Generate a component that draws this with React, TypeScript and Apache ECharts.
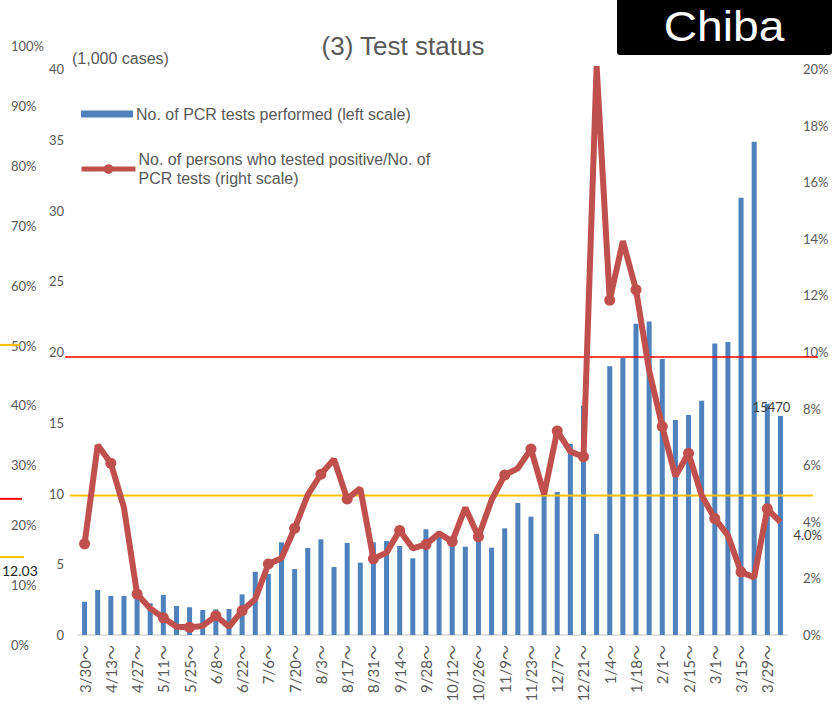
import React, { useEffect, useRef } from 'react';
import * as echarts from 'echarts';

const weeks = [
  '3/30', '4/6', '4/13', '4/20', '4/27', '5/4', '5/11', '5/18', '5/25', '6/1',
  '6/8', '6/15', '6/22', '6/29', '7/6', '7/13', '7/20', '7/27', '8/3', '8/10',
  '8/17', '8/24', '8/31', '9/7', '9/14', '9/21', '9/28', '10/5', '10/12', '10/19',
  '10/26', '11/2', '11/9', '11/16', '11/23', '11/30', '12/7', '12/14', '12/21', '12/28',
  '1/4', '1/11', '1/18', '1/25', '2/1', '2/8', '2/15', '2/22', '3/1', '3/8',
  '3/15', '3/22', '3/29', '4/5',
];

// No. of PCR tests performed (1,000 cases)
const pcrTests = [
  2.35, 3.18, 2.76, 2.76, 2.7, 2.24, 2.83, 2.05, 1.96, 1.77,
  1.81, 1.84, 2.87, 4.47, 4.31, 6.55, 4.66, 6.15, 6.76, 4.8,
  6.5, 5.11, 6.55, 6.64, 6.29, 5.42, 7.47, 7.07, 6.36, 6.24,
  6.7, 6.17, 7.54, 9.33, 8.36, 10.1, 10.1, 13.5, 16.2, 7.15,
  19.0, 19.6, 22.0, 22.15, 19.5, 15.2, 15.55, 16.55, 20.6, 20.7,
  30.9, 34.85, 16.35, 15.47,
];

// Positive / PCR tests (%)
const positivityRate = [
  3.22, 6.71, 6.07, 4.5, 1.45, 0.94, 0.61, 0.29, 0.27, 0.32,
  0.68, 0.29, 0.86, 1.27, 2.51, 2.71, 3.77, 4.95, 5.68, 6.21,
  4.81, 5.18, 2.69, 2.91, 3.69, 3.06, 3.2, 3.59, 3.3, 4.5,
  3.47, 4.77, 5.65, 5.89, 6.57, 4.97, 7.21, 6.48, 6.3, 20.1,
  11.83, 13.92, 12.2, 9.35, 7.37, 5.61, 6.42, 4.93, 4.12, 3.52,
  2.23, 2.03, 4.46, 3.99,
];

const lastTestsLabel = '15470';
const lastRateLabel = '4.0%';

// reference lines
const redThreshold = 9.82; // right scale %
const yellowThreshold = 4.93; // right scale %
const sideMarks = [
  { value: 50.1, color: '#FFC000', x2: 20 },
  { value: 24.4, color: '#FF0000', x2: 22 },
  { value: 14.7, color: '#FFC000', x2: 24 },
];
const sideValueLabel = '12.03';

const barName = 'No. of PCR tests performed (left scale)';
const lineName = 'No. of persons who tested positive/No. of\nPCR tests (right scale)';

export default function App() {
  const ref = useRef<HTMLDivElement>(null);

  useEffect(() => {
    const chart = echarts.init(ref.current as HTMLDivElement, null, { renderer: 'svg' });
    const axisFont = 'Lato, "Liberation Sans", sans-serif';
    const textFont = '"Liberation Sans", Arial, sans-serif';
    const axisColor = '#595959';

    const barData = pcrTests.map((v, i) =>
      i === pcrTests.length - 1
        ? {
            value: v,
            label: {
              show: true,
              position: 'top',
              formatter: lastTestsLabel,
              offset: [-9, 2],
              color: '#404040',
              fontSize: 13,
              fontFamily: axisFont,
            },
          }
        : v
    );

    chart.setOption({
      animation: false,
      backgroundColor: '#ffffff',
      grid: [
        { left: 78, right: 46, top: 69, bottom: 71 },
        { left: 50, top: 46, height: 599, width: 1 },
      ],
      legend: [
        {
          data: [barName],
          left: 81,
          top: 106,
          padding: 0,
          icon: 'rect',
          itemWidth: 52,
          itemHeight: 7,
          textStyle: { fontSize: 16, color: axisColor, fontFamily: textFont, padding: [0, 0, 0, -2] },
          selectedMode: false,
        },
        {
          data: [lineName],
          left: 79,
          top: 150,
          padding: 0,
          itemWidth: 54,
          itemHeight: 12,
          lineStyle: { width: 5 },
          textStyle: { fontSize: 16, lineHeight: 19, color: axisColor, fontFamily: textFont, padding: [0, 0, 0, -2] },
          selectedMode: false,
        },
      ],
      xAxis: [
        {
          type: 'category',
          data: weeks,
          boundaryGap: true,
          axisLine: { lineStyle: { color: '#d9d9d9', width: 1.5 } },
          axisTick: { show: false },
          axisLabel: {
            interval: 1,
            rotate: 90,
            margin: 10,
            color: axisColor,
            fontSize: 15,
            fontFamily: axisFont + ', "Noto Sans CJK JP"',
            formatter: (v: string) => v + '～',
          },
        },
        { gridIndex: 1, type: 'value', show: false },
      ],
      yAxis: [
        {
          type: 'value',
          min: 0,
          max: 40,
          interval: 5,
          axisLine: { show: false },
          axisTick: { show: false },
          splitLine: { show: false },
          axisLabel: { margin: 14, color: axisColor, fontSize: 13, fontFamily: axisFont },
        },
        {
          type: 'value',
          position: 'right',
          min: 0,
          max: 20,
          interval: 2,
          axisLine: { show: false },
          axisTick: { show: false },
          splitLine: { show: false },
          axisLabel: {
            margin: 16,
            color: axisColor,
            fontSize: 13,
            fontFamily: axisFont,
            formatter: '{value}%',
          },
        },
        {
          gridIndex: 1,
          type: 'value',
          min: 0,
          max: 100,
          interval: 10,
          axisLine: { show: false },
          axisTick: { show: false },
          splitLine: { show: false },
          axisLabel: {
            margin: 39,
            align: 'left',
            color: axisColor,
            fontSize: 13,
            fontFamily: axisFont,
            formatter: '{value}%',
          },
        },
      ],
      series: [
        {
          name: barName,
          type: 'bar',
          data: barData,
          barWidth: 5,
          itemStyle: { color: '#4F81BD' },
          z: 1,
        },
        {
          name: lineName,
          type: 'line',
          yAxisIndex: 1,
          data: positivityRate,
          symbol: 'circle',
          symbolSize: 11,
          lineStyle: { color: '#C0504D', width: 6 },
          itemStyle: { color: '#C0504D' },
          z: 5,
        },
      ],
    });

    const yR = (v: number) => chart.convertToPixel({ yAxisIndex: 1 }, v) as number;
    const yP = (v: number) => chart.convertToPixel({ yAxisIndex: 2 }, v) as number;
    const lastIdx = positivityRate.length - 1;
    const lastPt = chart.convertToPixel({ seriesIndex: 1 }, [lastIdx, positivityRate[lastIdx]]) as number[];

    chart.setOption({
      graphic: [
        {
          type: 'line',
          z: 3,
          shape: { x1: 65, y1: yR(redThreshold), x2: 818, y2: yR(redThreshold) },
          style: { stroke: '#FF0000', lineWidth: 1.5 },
        },
        {
          type: 'line',
          z: 3,
          shape: { x1: 70, y1: yR(yellowThreshold), x2: 813, y2: yR(yellowThreshold) },
          style: { stroke: '#FFC000', lineWidth: 2 },
        },
        ...sideMarks.map((m) => ({
          type: 'line',
          z: 3,
          shape: { x1: 0, y1: yP(m.value), x2: m.x2, y2: yP(m.value) },
          style: { stroke: m.color, lineWidth: 2 },
        })),
        {
          type: 'text',
          z: 3,
          x: 2,
          y: yP(14.7) + 14,
          style: {
            text: sideValueLabel,
            fill: '#262626',
            font: '14px ' + axisFont,
            textAlign: 'left',
            textVerticalAlign: 'middle',
            align: 'left',
            verticalAlign: 'middle',
          },
        },
        {
          type: 'text',
          z: 6,
          x: lastPt[0] + 13,
          y: lastPt[1] + 13,
          style: {
            text: lastRateLabel,
            fill: '#404040',
            font: '13px ' + axisFont,
            textAlign: 'left',
            textVerticalAlign: 'middle',
            align: 'left',
            verticalAlign: 'middle',
          },
        },
        {
          type: 'text',
          z: 3,
          x: 403,
          y: 46,
          style: {
            text: '(3) Test status',
            fill: axisColor,
            font: '26px ' + textFont,
            textAlign: 'center',
            textVerticalAlign: 'middle',
            align: 'center',
            verticalAlign: 'middle',
          },
        },
        {
          type: 'text',
          z: 3,
          x: 72,
          y: 58,
          style: {
            text: '(1,000 cases)',
            fill: axisColor,
            font: '16px ' + textFont,
            textAlign: 'left',
            textVerticalAlign: 'middle',
            align: 'left',
            verticalAlign: 'middle',
          },
        },
        {
          type: 'rect',
          z: 3,
          shape: { x: 617, y: 0, width: 215, height: 55, r: [0, 0, 3, 3] },
          style: { fill: '#000000' },
        },
        {
          type: 'text',
          z: 4,
          x: 724,
          y: 26,
          scaleX: 1.1,
          style: {
            text: 'Chiba',
            fill: '#ffffff',
            font: '42px ' + textFont,
            textAlign: 'center',
            textVerticalAlign: 'middle',
            align: 'center',
            verticalAlign: 'middle',
          },
        },
      ],
    });

    return () => chart.dispose();
  }, []);

  return (
    <div
      ref={ref}
      style={{ position: 'fixed', left: 0, top: 0, width: 833, height: 706 }}
    />
  );
}
